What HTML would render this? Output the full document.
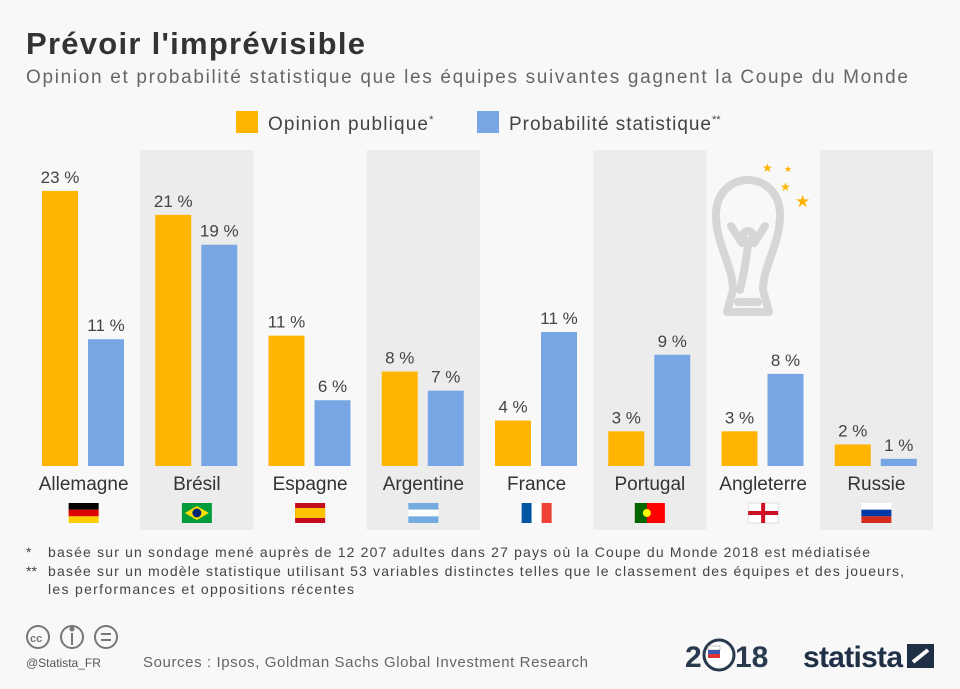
<!DOCTYPE html>
<html><head><meta charset="utf-8">
<style>
body{margin:0;width:960px;height:684px;background:#f8f8f8;font-family:"Liberation Sans",sans-serif;overflow:hidden}
svg text{font-family:"Liberation Sans",sans-serif}
</style></head>
<body>
<svg id="c" width="960" height="684">
<text x="26" y="54" font-size="31" font-weight="bold" fill="#333" textLength="339">Prévoir l'imprévisible</text>
<text x="26" y="83" font-size="19" fill="#666" textLength="882">Opinion et probabilité statistique que les équipes suivantes gagnent la Coupe du Monde</text>
<g>
<rect x="236" y="111" width="22" height="22" fill="#ffb400"/>
<text x="268" y="130" font-size="19" fill="#444"><tspan textLength="160">Opinion publique</tspan><tspan font-size="11" dy="-7">*</tspan></text>
<rect x="477" y="111" width="22" height="22" fill="#78a6e4"/>
<text x="509" y="130" font-size="19" fill="#444"><tspan textLength="202">Probabilité statistique</tspan><tspan font-size="11" dy="-7">**</tspan></text>
</g>
<g id="bands"></g>
<g fill="none" stroke="#d6d6d6" stroke-width="8" stroke-linecap="round" stroke-linejoin="round">
<path d="M733,290 C733,265 716,245 716,215 C716,192 732,180 748,180 C764,180 780,192 780,215 C780,245 763,265 763,290"/>
<path d="M731,226 L742,243 M765,226 L754,243"/>
<circle cx="748" cy="236" r="5"/>
<path d="M748,246 L744,272 L740,290"/>
<path d="M733,290 L727,312 L769,312 L763,290"/>
<line x1="738" y1="302" x2="758" y2="302"/>
</g>
<g fill="#ffb400">
<text x="762" y="172" font-size="12">★</text><text x="784" y="172" font-size="9">★</text>
<text x="780" y="191" font-size="12">★</text><text x="795" y="207" font-size="17">★</text>
</g>
<g id="bars"></g>
<g id="labels"></g>
<g font-size="14" fill="#444">
<text x="26" y="557">*</text><text x="48" y="557" textLength="822">basée sur un sondage mené auprès de 12 207 adultes dans 27 pays où la Coupe du Monde 2018 est médiatisée</text>
<text x="26" y="576">**</text><text x="48" y="576" textLength="856">basée sur un modèle statistique utilisant 53 variables distinctes telles que le classement des équipes et des joueurs,</text>
<text x="48" y="594" textLength="306">les performances et oppositions récentes</text>
</g>
<g fill="none" stroke="#777" stroke-width="2">
<circle cx="38" cy="637" r="11"/><circle cx="72" cy="637" r="11"/><circle cx="106" cy="637" r="11"/>
<text x="30" y="642" font-size="11" fill="#777" stroke="none" font-weight="bold">cc</text>
<line x1="72" y1="633" x2="72" y2="645"/><circle cx="72" cy="629" r="1.5" fill="#777"/>
<line x1="101" y1="634" x2="111" y2="634"/><line x1="101" y1="640" x2="111" y2="640"/>
</g>
<text x="26" y="667" font-size="12" fill="#555">@Statista_FR</text>
<text x="143" y="667" font-size="15" fill="#666" textLength="445">Sources : Ipsos, Goldman Sachs Global Investment Research</text>
<g>
<text x="685" y="667" font-size="30" font-weight="bold" fill="#2a3a4e">2</text>
<circle cx="719" cy="655" r="15" fill="#fff" stroke="#2a3a4e" stroke-width="3"/>
<rect x="708" y="646" width="12" height="4" fill="#fff" stroke="#888" stroke-width="0.5"/><rect x="708" y="650" width="12" height="4" fill="#3a5bb0"/><rect x="708" y="654" width="12" height="4" fill="#d33"/>
<text x="735" y="667" font-size="30" font-weight="bold" fill="#2a3a4e">18</text>
</g>
<text x="803" y="667" font-size="30" font-weight="bold" fill="#1e2f46" textLength="100">statista</text>
<path d="M907,644 H934 V668 H907 Z" fill="#1e2f46"/>
<path d="M913,662 L928,650" stroke="#f8f8f8" stroke-width="4"/>
</svg>
<script>
const categories=["Allemagne","Brésil","Espagne","Argentine","France","Portugal","Angleterre","Russie"];
const opinion=[23,21,10.9,7.9,3.8,2.9,2.9,1.8];
const probabilite=[10.6,18.5,5.5,6.3,11.2,9.3,7.7,0.6];
const opinionLabels=["23 %","21 %","11 %","8 %","4 %","3 %","3 %","2 %"];
const probLabels=["11 %","19 %","6 %","7 %","11 %","9 %","8 %","1 %"];
const NS="http://www.w3.org/2000/svg";
const x0=27,gw=113.25,base=466,ppu=11.96;
const xs=i=>x0+i*gw;
const ys=v=>base-v*ppu;
function mk(t,a,p){const e=document.createElementNS(NS,t);for(const k in a)e.setAttribute(k,a[k]);p.appendChild(e);return e;}
const bands=document.getElementById('bands'),bars=document.getElementById('bars'),labels=document.getElementById('labels');
const flags={
"Allemagne":[["#000","#d00","#ffce00"],"h"],"Brésil":null,"Espagne":[["#c60b1e","#ffc400","#c60b1e"],"hs"],
"Argentine":[["#74acdf","#fff","#74acdf"],"h"],"France":[["#0055a4","#fff","#ef4135"],"v"],
"Portugal":null,"Angleterre":null,"Russie":[["#fff","#0039a6","#d52b1e"],"h"]};
categories.forEach((c,i)=>{
 if(i%2===1){const b=mk('rect',{x:xs(i),y:150,width:gw,height:380,fill:'#ececec'},bands);
 
 }
 const ro=mk('rect',{x:xs(i)+15,y:ys(opinion[i]),width:36,height:opinion[i]*ppu,fill:'#ffb400'},bars);
 
 
 const rp=mk('rect',{x:xs(i)+61,y:ys(probabilite[i]),width:36,height:probabilite[i]*ppu,fill:'#78a6e4'},bars);
 
 
 const t1=mk('text',{x:xs(i)+33,y:ys(opinion[i])-8,'font-size':17,fill:'#444','text-anchor':'middle'},labels);t1.textContent=opinionLabels[i];
 
 
 const t2=mk('text',{x:xs(i)+79,y:ys(probabilite[i])-8,'font-size':17,fill:'#444','text-anchor':'middle'},labels);t2.textContent=probLabels[i];
 
 
 const tc=mk('text',{x:xs(i)+gw/2,y:490,'font-size':19,fill:'#333','text-anchor':'middle'},labels);tc.textContent=c;
 
 
 const g=mk('g',{},labels);
 
 
 const fx=xs(i)+gw/2-15,fy=503,fw=30,fh=20,f=flags[c];
 if(f){const [cols,d]=f;
  if(d==='v')cols.forEach((col,k)=>mk('rect',{x:fx+k*fw/3,y:fy,width:fw/3,height:fh,fill:col},g));
  else if(d==='hs'){mk('rect',{x:fx,y:fy,width:fw,height:fh,fill:cols[0]},g);mk('rect',{x:fx,y:fy+5,width:fw,height:10,fill:cols[1]},g);}
  else cols.forEach((col,k)=>mk('rect',{x:fx,y:fy+k*fh/3,width:fw,height:fh/3,fill:col},g));
 }else if(c==="Brésil"){mk('rect',{x:fx,y:fy,width:fw,height:fh,fill:'#009c3b'},g);mk('polygon',{points:`${fx+15},${fy+3} ${fx+27},${fy+10} ${fx+15},${fy+17} ${fx+3},${fy+10}`,fill:'#ffdf00'},g);mk('circle',{cx:fx+15,cy:fy+10,r:4.5,fill:'#002776'},g);}
 else if(c==="Portugal"){mk('rect',{x:fx,y:fy,width:fw,height:fh,fill:'#f00'},g);mk('rect',{x:fx,y:fy,width:12,height:fh,fill:'#060'},g);mk('circle',{cx:fx+12,cy:fy+10,r:4,fill:'#ff0'},g);}
 else {mk('rect',{x:fx,y:fy,width:fw,height:fh,fill:'#fff',stroke:'#ddd'},g);mk('rect',{x:fx+13,y:fy,width:4,height:fh,fill:'#ce1124'},g);mk('rect',{x:fx,y:fy+8,width:fw,height:4,fill:'#ce1124'},g);}
});
</script>
</body></html>
